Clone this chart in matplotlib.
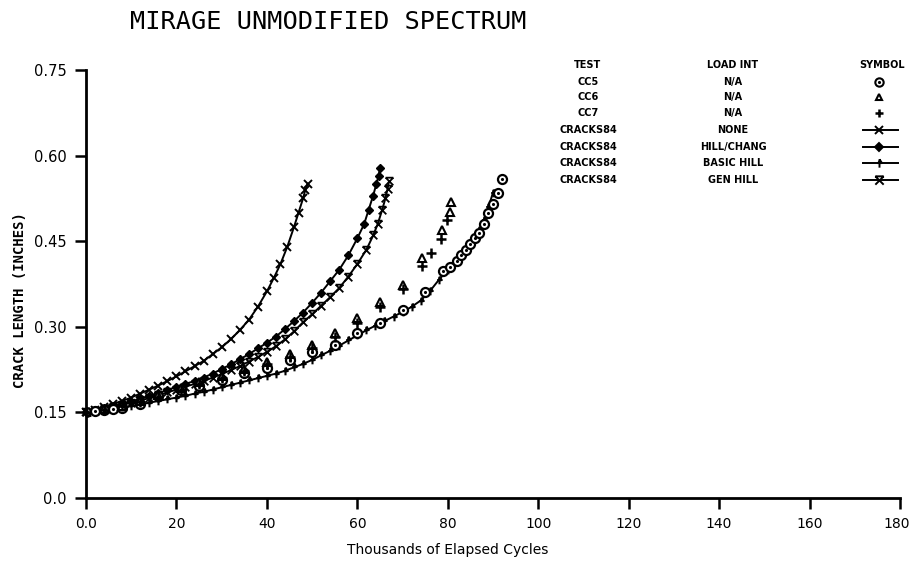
import matplotlib
matplotlib.use("Agg")
import matplotlib.pyplot as plt
import matplotlib.transforms as mtrans
from matplotlib.lines import Line2D
from matplotlib.path import Path

# ---------------- data ----------------
none_x = [0, 2, 4, 6, 8, 10, 12, 14, 16, 18, 20, 22, 24, 26, 28, 30, 32, 34, 36,
          38, 40, 41.5, 43, 44.5, 46, 47, 48, 48.5, 49]
none_y = [0.150, 0.155, 0.160, 0.165, 0.170, 0.176, 0.183, 0.190, 0.197, 0.205,
          0.213, 0.222, 0.231, 0.240, 0.252, 0.264, 0.278, 0.294, 0.312, 0.335,
          0.362, 0.385, 0.410, 0.440, 0.475, 0.500, 0.525, 0.540, 0.550]

hill_x = [0, 2, 4, 6, 8, 10, 12, 14, 16, 18, 20, 22, 24, 26, 28, 30, 32, 34, 36, 38,
          40, 42, 44, 46, 48, 50, 52, 54, 56, 58, 60, 61.5, 62.5, 63.5, 64.2, 64.7, 65]
hill_y = [0.150, 0.153, 0.157, 0.161, 0.165, 0.169, 0.174, 0.179, 0.184, 0.189,
          0.195, 0.200, 0.205, 0.211, 0.218, 0.226, 0.234, 0.243, 0.252, 0.262,
          0.272, 0.283, 0.296, 0.310, 0.325, 0.342, 0.360, 0.380, 0.400, 0.425,
          0.455, 0.480, 0.505, 0.530, 0.550, 0.565, 0.578]

gen_x = [0, 2, 4, 6, 8, 10, 12, 14, 16, 18, 20, 22, 24, 26, 28, 30, 32, 34, 36, 38,
         40, 42, 44, 46, 48, 50, 52, 54, 56, 58, 60, 62, 63.5, 64.5, 65.5, 66.2, 66.7, 67]
gen_y = [0.150, 0.153, 0.156, 0.160, 0.163, 0.167, 0.171, 0.175, 0.180, 0.185,
         0.190, 0.195, 0.200, 0.205, 0.211, 0.217, 0.224, 0.231, 0.239, 0.247,
         0.256, 0.266, 0.278, 0.292, 0.308, 0.322, 0.337, 0.352, 0.368, 0.388,
         0.410, 0.435, 0.460, 0.480, 0.505, 0.525, 0.542, 0.555]

basic_x = [0, 2, 4, 6, 8, 10, 12, 14, 16, 18, 20, 22, 24, 26, 28, 30, 32, 34, 36, 38,
           40, 42, 44, 46, 48, 50, 52, 54, 56, 58, 60, 62, 64, 66, 68, 70, 72, 74, 76,
           78, 80, 82, 84, 86, 87, 88, 89, 90]
basic_y = [0.150, 0.152, 0.154, 0.157, 0.159, 0.161, 0.164, 0.167, 0.170, 0.173,
           0.176, 0.179, 0.183, 0.186, 0.190, 0.194, 0.198, 0.202, 0.206, 0.210,
           0.214, 0.218, 0.223, 0.229, 0.235, 0.242, 0.250, 0.258, 0.267, 0.276,
           0.285, 0.294, 0.302, 0.310, 0.318, 0.326, 0.335, 0.346, 0.362, 0.382,
           0.400, 0.415, 0.435, 0.455, 0.470, 0.487, 0.510, 0.535]

cc5_x = [0, 2, 4, 6, 8, 12, 16, 21, 25, 30, 35, 40, 45, 50, 55, 60, 65, 70, 75, 79,
         80.5, 82, 83, 84, 85, 86, 87, 88, 89, 90, 91, 92]
cc5_y = [0.150, 0.152, 0.154, 0.156, 0.158, 0.164, 0.178, 0.189, 0.197, 0.207,
         0.219, 0.228, 0.242, 0.256, 0.268, 0.289, 0.306, 0.329, 0.361, 0.398,
         0.405, 0.415, 0.425, 0.435, 0.445, 0.455, 0.465, 0.480, 0.500, 0.515,
         0.535, 0.559]

cc6_x = [0, 4, 8, 12, 16, 21, 25, 30, 35, 40, 45, 50, 55, 60, 65, 70, 74.4, 78.8, 80.4, 80.8]
cc6_y = [0.150, 0.156, 0.162, 0.170, 0.180, 0.193, 0.203, 0.214, 0.226, 0.238,
         0.252, 0.268, 0.289, 0.315, 0.343, 0.373, 0.420, 0.470, 0.501, 0.519]

cc7_x = [0, 4, 8, 12, 16, 21, 25, 30, 35, 40, 45, 50, 55, 60, 65, 70, 74.4, 76.4, 78.6, 79.9]
cc7_y = [0.150, 0.155, 0.161, 0.168, 0.177, 0.189, 0.199, 0.210, 0.222, 0.234,
         0.247, 0.262, 0.282, 0.307, 0.335, 0.366, 0.407, 0.429, 0.454, 0.487]

x_ticks = [0, 20, 40, 60, 80, 100, 120, 140, 160, 180]
x_tick_labels = ["0.0", "20", "40", "60", "80", "100", "120", "140", "160", "180"]
y_ticks = [0.0, 0.15, 0.30, 0.45, 0.60, 0.75]
y_tick_labels = ["0.0", "0.15", "0.30", "0.45", "0.60", "0.75"]

legend_tests = ["CC5", "CC6", "CC7", "CRACKS84", "CRACKS84", "CRACKS84", "CRACKS84"]
legend_loads = ["N/A", "N/A", "N/A", "NONE", "HILL/CHANG", "BASIC HILL", "GEN HILL"]

# ---------------- custom markers ----------------
arrow_marker = Path([(0, -1), (0, 1), (-0.6, 0.1), (0.6, 0.1), (0, 1)],
                    [Path.MOVETO, Path.LINETO, Path.MOVETO, Path.LINETO, Path.LINETO])
gen_marker = Path([(-1, -1), (1, 1), (-1, 1), (1, -1), (-1, 1), (1, 1)],
                  [Path.MOVETO, Path.LINETO, Path.MOVETO, Path.LINETO, Path.MOVETO, Path.LINETO])

# ---------------- figure ----------------
W, H = 912, 561
fig = plt.figure(figsize=(W / 100, H / 100), dpi=100)
ax = fig.add_axes([86 / W, 1 - 498 / H, (900 - 86) / W, (498 - 70) / H])
ax.set_xlim(0, 180)
ax.set_ylim(0, 0.75)

for s in ("top", "right"):
    ax.spines[s].set_visible(False)
for s in ("left", "bottom"):
    ax.spines[s].set_linewidth(2)

ax.set_xticks(x_ticks)
ax.set_xticklabels(x_tick_labels, fontsize=10)
ax.set_yticks(y_ticks)
ax.set_yticklabels(y_tick_labels, fontsize=10.5)
ax.tick_params(axis="both", direction="out", length=8, width=1.8, pad=6)
last = ax.get_xticklabels()[-1]
last.set_transform(last.get_transform() + mtrans.ScaledTranslation(-3 / 100, 0, fig.dpi_scale_trans))

lw = 1.4
ax.plot(none_x, none_y, color="black", lw=lw, marker="x", ms=5.5, mew=1.4, clip_on=False)
ax.plot(hill_x, hill_y, color="black", lw=lw, marker="D", ms=4, clip_on=False)
ax.plot(gen_x, gen_y, color="black", lw=lw, marker=gen_marker, ms=5.5, mew=1.3, clip_on=False)
ax.plot(basic_x, basic_y, color="black", lw=lw, marker=arrow_marker, ms=5.5, mew=1.5, clip_on=False)

ax.plot(cc5_x, cc5_y, ls="none", marker="o", ms=6.5, mfc="white", mec="black", mew=1.6)
ax.plot(cc5_x, cc5_y, ls="none", marker=".", ms=2.5, color="black")
ax.plot(cc6_x, cc6_y, ls="none", marker="^", ms=5.5, mfc="white", mec="black", mew=1.5)
ax.plot(cc7_x, cc7_y, ls="none", marker="+", ms=6.5, mec="black", mew=1.8)

# ---------------- texts ----------------
fig.text(130 / W, 1 - 22 / H, "MIRAGE UNMODIFIED SPECTRUM", family="DejaVu Sans Mono",
         fontsize=18.2, ha="left", va="center")
fig.text(20 / W, 1 - 300 / H, "CRACK LENGTH (INCHES)", rotation=90, fontsize=10,
         ha="center", va="center", family="DejaVu Sans Mono", weight="bold")
fig.text(448 / W, 1 - 550 / H, "Thousands of Elapsed Cycles", fontsize=10,
         ha="center", va="center")

# legend table
row_y = [82, 97, 113, 130, 147, 163, 180]
fs = 7
fig.text(588 / W, 1 - 65 / H, "TEST", fontsize=fs, weight="bold", ha="center", va="center")
fig.text(733 / W, 1 - 65 / H, "LOAD INT", fontsize=fs, weight="bold", ha="center", va="center")
fig.text(882 / W, 1 - 65 / H, "SYMBOL", fontsize=fs, weight="bold", ha="center", va="center")
for t, l, y in zip(legend_tests, legend_loads, row_y):
    fig.text(588 / W, 1 - y / H, t, fontsize=fs, weight="bold", ha="center", va="center")
    fig.text(733 / W, 1 - y / H, l, fontsize=fs, weight="bold", ha="center", va="center")

sx = 879 / W
def yy(p):
    return 1 - p / H

fig.add_artist(Line2D([sx], [yy(row_y[0])], marker="o", ms=6, mfc="white", mec="black",
                      mew=1.5, ls="none", transform=fig.transFigure))
fig.add_artist(Line2D([sx], [yy(row_y[0])], marker=".", ms=2.5, color="black",
                      ls="none", transform=fig.transFigure))
fig.add_artist(Line2D([sx], [yy(row_y[1])], marker="^", ms=5, mfc="white", mec="black",
                      mew=1.5, ls="none", transform=fig.transFigure))
fig.add_artist(Line2D([sx], [yy(row_y[2])], marker="+", ms=6, mec="black",
                      mew=1.8, ls="none", transform=fig.transFigure))
line_markers = [("x", 6), ("D", 4), (arrow_marker, 6), (gen_marker, 6)]
for (m, ms), y in zip(line_markers, row_y[3:]):
    fig.add_artist(Line2D([863 / W, 898 / W], [yy(y), yy(y)], color="black", lw=1.4,
                          transform=fig.transFigure))
    fig.add_artist(Line2D([sx], [yy(y)], marker=m, ms=ms, color="black", mew=1.4,
                          ls="none", transform=fig.transFigure))

fig.savefig("out.png", dpi=100)
